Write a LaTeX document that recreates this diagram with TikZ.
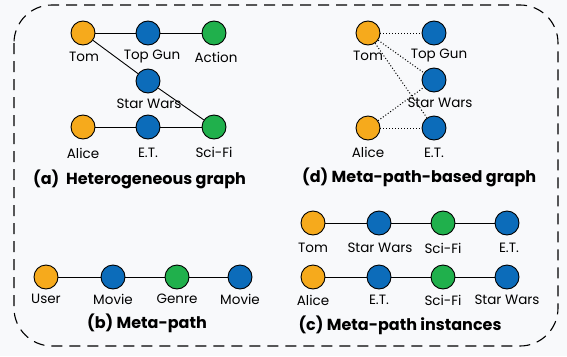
\documentclass[tikz,border=0pt]{standalone}
\usepackage{fontspec}
\setmainfont{Poppins}
\begin{document}
\begin{tikzpicture}[x=1pt,y=-1pt,
  vtx/.style={circle,draw=black,line width=0.9pt,minimum size=24pt,inner sep=0pt},
  usr/.style={vtx,fill=usrc},
  mov/.style={vtx,fill=movc},
  gen/.style={vtx,fill=genc},
  lbl/.style={font=\fontsize{13.5}{15}\selectfont,inner sep=0pt},
  ttl/.style={font=\bfseries\fontsize{16}{18}\selectfont,inner sep=0pt},
  edge/.style={line width=0.9pt},
  dedge/.style={line width=1pt,dotted}]
\definecolor{usrc}{RGB}{246,170,28}
\definecolor{movc}{RGB}{12,108,186}
\definecolor{genc}{RGB}{32,176,76}
\definecolor{bgc}{RGB}{248,249,251}
\useasboundingbox (0,0) rectangle (567,356);
\fill[bgc] (0,0) rectangle (567,356);
\draw[dash pattern=on 11pt off 7pt,line width=1.1pt,rounded corners=38pt] (14,5) rectangle (558,346);
% (a)
\node[usr] (aTom) at (83,33) {};
\node[mov] (aTG) at (148,33) {};
\node[gen] (aAct) at (214,33) {};
\node[mov] (aSW) at (148,81) {};
\node[usr] (aAl) at (83,127) {};
\node[mov] (aET) at (148,127) {};
\node[gen] (aSF) at (214,127) {};
\node[lbl] (laTom) at (84,57) {Tom};
\node[lbl] (laTG) at (152,56) {Top Gun};
\node[lbl] (laAct) at (216,57) {Action};
\node[lbl] (laSW) at (149,104) {Star Wars};
\node[lbl] (laAl) at (83,153) {Alice};
\node[lbl] (laET) at (148,153) {E.T.};
\node[lbl] (laSF) at (214,152) {Sci-Fi};
\node[ttl,anchor=west] (ta) at (33,179) {(a)\ \ Heterogeneous graph};
% (d)
\node[usr] (dTom) at (368,33) {};
\node[mov] (dTG) at (434,33) {};
\node[mov] (dSW) at (434,80) {};
\node[usr] (dAl) at (368,128) {};
\node[mov] (dET) at (434,128) {};
\node[lbl] (ldTom) at (368,56) {Tom};
\node[lbl] (ldTG) at (439,55) {Top Gun};
\node[lbl] (ldSW) at (440,103) {Star Wars};
\node[lbl] (ldAl) at (368,152) {Alice};
\node[lbl] (ldET) at (434,153) {E.T.};
\node[ttl,anchor=west] (td) at (302,177) {(d) Meta-path-based graph};
% (b)
\node[usr] (bU) at (46,277) {};
\node[mov] (bM1) at (113,277) {};
\node[gen] (bG) at (177,277) {};
\node[mov] (bM2) at (240,277) {};
\node[lbl] (lbU) at (46,299) {User};
\node[lbl] (lbM1) at (113,299) {Movie};
\node[lbl] (lbG) at (177,299) {Genre};
\node[lbl] (lbM2) at (240,299) {Movie};
\node[ttl] (tb) at (147,323) {(b) Meta-path};
% (c)
\node[usr] (c1a) at (313,223) {};
\node[mov] (c1b) at (379,223) {};
\node[gen] (c1c) at (443,223) {};
\node[mov] (c1d) at (507,223) {};
\node[lbl] (lc1a) at (313,248) {Tom};
\node[lbl] (lc1b) at (380,248) {Star Wars};
\node[lbl] (lc1c) at (443,248) {Sci-Fi};
\node[lbl] (lc1d) at (509,248) {E.T.};
\node[usr] (c2a) at (313,277) {};
\node[mov] (c2b) at (379,277) {};
\node[gen] (c2c) at (443,277) {};
\node[mov] (c2d) at (507,277) {};
\node[lbl] (lc2a) at (313,300) {Alice};
\node[lbl] (lc2b) at (379,300) {E.T.};
\node[lbl] (lc2c) at (443,300) {Sci-Fi};
\node[lbl] (lc2d) at (507,300) {Star Wars};
\node[ttl] (tc) at (400,325) {(c) Meta-path instances};
% edges
\draw[edge] (aTom) -- (aTG);
\draw[edge] (aTG) -- (aAct);
\draw[edge] (aTom) -- (aSW);
\draw[edge] (aSW) -- (aSF);
\draw[edge] (aAl) -- (aET);
\draw[edge] (aET) -- (aSF);
\draw[dedge] (dTom) -- (dTG);
\draw[dedge] (dTom) -- (dSW);
\draw[dedge] (dTom) -- (dET);
\draw[dedge] (dAl) -- (dSW);
\draw[dedge] (dAl) -- (dET);
\draw[edge] (bU) -- (bM1);
\draw[edge] (bM1) -- (bG);
\draw[edge] (bG) -- (bM2);
\draw[edge] (c1a) -- (c1b);
\draw[edge] (c1b) -- (c1c);
\draw[edge] (c1c) -- (c1d);
\draw[edge] (c2a) -- (c2b);
\draw[edge] (c2b) -- (c2c);
\draw[edge] (c2c) -- (c2d);
\end{tikzpicture}
\end{document}
